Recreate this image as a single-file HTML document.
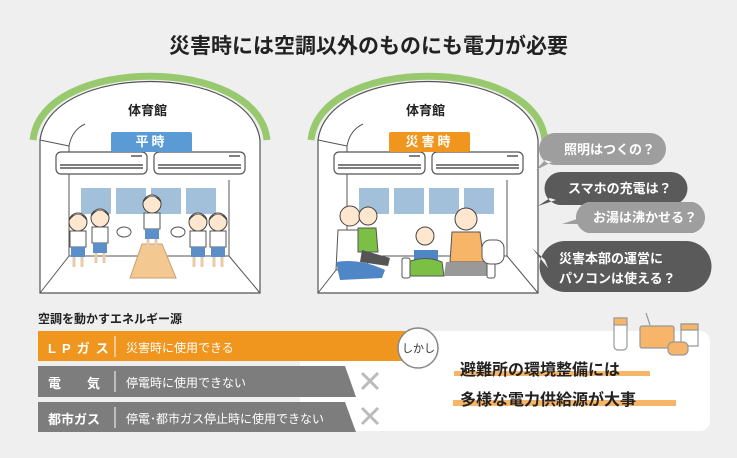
<!DOCTYPE html>
<html><head><meta charset="utf-8"><style>
body{margin:0;width:737px;height:458px;background:#eeefee;overflow:hidden;position:relative;font-family:"Liberation Sans","Noto Sans CJK JP",sans-serif;}
.a{position:absolute;white-space:nowrap;}
</style></head><body>
<svg class="a" style="left:0;top:0" width="737" height="458" viewBox="0 0 737 458">
<defs>
<g id="gym">
  <path d="M40,140 C50,62 250,62 260,140 L260,293 L40,293 Z" fill="#fff" stroke="#555" stroke-width="1.2"/>
  <path d="M33,140 C42,55 258,55 267,140" fill="none" stroke="#99c96e" stroke-width="7"/>
  <path d="M40,140 L69,146 Q72,130 85,124" fill="none" stroke="#555" stroke-width="1"/>
  <path d="M69,146 L69,256 L229,256 L229,180 M69,256 L40,293 M229,256 L260,293" fill="none" stroke="#555" stroke-width="1"/>
  <g fill="#a3c0da"><rect x="81" y="188" width="30" height="26"/><rect x="116" y="188" width="30" height="26"/><rect x="151" y="188" width="30" height="26"/><rect x="186" y="188" width="30" height="26"/></g>
  <g fill="#fff" stroke="#555" stroke-width="1.2">
   <rect x="56" y="152" width="91" height="22" rx="5"/><rect x="154" y="152" width="91" height="22" rx="5"/></g>
  <g stroke="#555" stroke-width="1.5"><line x1="60" y1="165" x2="143" y2="165"/><line x1="60" y1="168" x2="143" y2="168"/><line x1="158" y1="165" x2="241" y2="165"/><line x1="158" y1="168" x2="241" y2="168"/>
  <line x1="131" y1="156" x2="142" y2="156"/><line x1="229" y1="156" x2="240" y2="156"/></g>
</g>
<g id="kid">
  <circle cx="0" cy="0" r="9" fill="#ffe6cf" stroke="#444"/><path d="M-9,-1 Q0,-14 9,-1 L9,-4 Q0,-12 -9,-4Z" fill="#444"/>
  <rect x="-8" y="9" width="16" height="16" fill="#fff" stroke="#555"/><rect x="-7" y="25" width="14" height="10" fill="#5b8fc9"/>
  <line x1="-4" y1="35" x2="-4" y2="45" stroke="#e8c9a8" stroke-width="3"/><line x1="4" y1="35" x2="4" y2="45" stroke="#e8c9a8" stroke-width="3"/>
</g>
</defs>
<use href="#gym"/>
<use href="#gym" x="278"/>
<use href="#kid" x="78" y="222"/><use href="#kid" x="100" y="218"/><use href="#kid" x="198" y="222"/><use href="#kid" x="218" y="222"/>
<path d="M130,278 L142,244 L162,244 L176,278Z" fill="#f3c891" stroke="#c9a070"/>
<use href="#kid" x="152" y="204"/>
<ellipse cx="124" cy="232" rx="7" ry="5" fill="#fff" stroke="#555"/><ellipse cx="178" cy="232" rx="7" ry="5" fill="#fff" stroke="#555"/>
<circle cx="350" cy="216" r="10" fill="#ffe6cf" stroke="#444"/><path d="M338,230 L362,230 L368,265 L336,270Z" fill="#fff" stroke="#555"/><path d="M336,262 Q360,258 385,270 L382,278 L340,280Z" fill="#4f86c6"/>
<circle cx="368" cy="216" r="9" fill="#ffe6cf" stroke="#444"/><path d="M358,228 L376,228 L378,252 L358,252Z" fill="#7bbf45" stroke="#555"/><path d="M362,250 L390,258 L388,266 L360,262Z" fill="#555"/>
<circle cx="425" cy="236" r="9" fill="#ffe6cf" stroke="#444"/><path d="M414,250 L438,250 L438,262 L414,262Z" fill="#4f86c6"/><path d="M408,262 Q425,255 442,262 L444,276 L408,276Z" fill="#7bbf45" stroke="#555"/>
<circle cx="466" cy="219" r="11" fill="#ffe6cf" stroke="#444"/><path d="M452,232 L480,232 L484,262 L450,262Z" fill="#f7b56a" stroke="#555"/><path d="M446,262 L486,262 L488,276 L444,276Z" fill="#999"/>
<rect x="402" y="258" width="8" height="20" rx="2" fill="#fff" stroke="#555"/><rect x="487" y="258" width="8" height="20" rx="2" fill="#fff" stroke="#555"/>
<rect x="482" y="240" width="22" height="24" rx="8" fill="#fff" stroke="#555"/>
<g font-weight="bold" font-size="13" fill="#fff" font-family="Liberation Sans,Noto Sans CJK JP,sans-serif">
<path d="M555,133 H650 A16,16 0 0 1 650,165 H555 A16,16 0 0 1 555,133Z M545,160 L536,170 L552,162Z" fill="#9e9e9e"/>
<text x="564" y="154">照明はつくの？</text>
<path d="M561,172 H671 A16,16 0 0 1 671,205 H561 A16,16 0 0 1 561,172Z M550,198 L538,206 L556,200Z" fill="#5a5a5a"/>
<text x="568" y="193">スマホの充電は？</text>
<path d="M588,202 H693 A16,16 0 0 1 693,233 H588 A16,16 0 0 1 588,202Z M578,224 L562,224 L580,218Z" fill="#9e9e9e"/>
<text x="593" y="222">お湯は沸かせる？</text>
<path d="M565,241 H686 A25,25 0 0 1 686,292 H565 A25,25 0 0 1 565,241Z M545,260 L532,248 L548,268Z" fill="#5a5a5a"/>
<text x="559" y="263">災害本部の運営に</text><text x="559" y="283">パソコンは使える？</text>
</g>
<rect x="300" y="331" width="410" height="100" rx="10" fill="#fff"/>
<rect x="38" y="331" width="372" height="30" fill="#f0961e"/>
<path d="M38,366 H345 L356,397 H38Z" fill="#7d7d7d"/>
<path d="M38,402 H345 L356,432 H38Z" fill="#7d7d7d"/>
<g stroke="#fff" stroke-width="1"><line x1="115" y1="336" x2="115" y2="357"/><line x1="115" y1="371" x2="115" y2="392"/><line x1="115" y1="407" x2="115" y2="428"/></g>
<g stroke="#bbb" stroke-width="3"><path d="M362,373 L378,389 M378,373 L362,389"/><path d="M362,408 L378,424 M378,408 L362,424"/></g>
<circle cx="418" cy="348" r="20" fill="#fff" stroke="#888" stroke-width="1.5"/>
<rect x="454" y="371" width="196" height="5" fill="#f7b56a"/>
<rect x="453" y="400" width="223" height="6" fill="#f7b56a"/>
<g stroke="#999" stroke-width="1.2"><rect x="614" y="318" width="13" height="32" rx="4" fill="#fff"/><rect x="614" y="318" width="13" height="7" fill="#f7b56a"/>
<rect x="640" y="326" width="34" height="22" rx="2" fill="#f7b56a"/><line x1="650" y1="325" x2="646" y2="313"/>
<path d="M681,324 H698 V346 H681Z" fill="#fff"/><path d="M681,324 H698 V330 H681Z" fill="#f7b56a"/>
<rect x="668" y="342" width="20" height="13" rx="5" fill="#f7b56a"/></g>
</svg>
<div class="a" style="left:0;width:737px;top:30px;text-align:center;font-size:21px;font-weight:bold;color:#222">災害時には空調以外のものにも電力が必要</div>
<div class="a" style="left:128px;top:100px;font-size:13px;font-weight:bold;color:#222">体育館</div>
<div class="a" style="left:406px;top:100px;font-size:13px;font-weight:bold;color:#222">体育館</div>
<div class="a" style="left:111px;top:132px;width:81px;height:20px;background:#5b9bd5;color:#fff;font-weight:bold;font-size:13px;text-align:center;line-height:20px;letter-spacing:3px;border-radius:2px">平時</div>
<div class="a" style="left:389px;top:132px;width:81px;height:20px;background:#f0961e;color:#fff;font-weight:bold;font-size:13px;text-align:center;line-height:20px;letter-spacing:3px;border-radius:2px">災害時</div>
<div class="a" style="left:38px;top:310px;font-size:12px;font-weight:bold;color:#222">空調を動かすエネルギー源</div>
<div class="a" style="left:48px;top:338px;font-size:13px;font-weight:bold;color:#fff;letter-spacing:6px">LPガス</div>
<div class="a" style="left:126px;top:339px;font-size:12px;color:#fff">災害時に使用できる</div>
<div class="a" style="left:48px;top:373px;font-size:13px;font-weight:bold;color:#fff">電<span style="margin-left:26px">気</span></div>
<div class="a" style="left:126px;top:374px;font-size:12px;color:#fff">停電時に使用できない</div>
<div class="a" style="left:48px;top:409px;font-size:13px;font-weight:bold;color:#fff">都市ガス</div>
<div class="a" style="left:126px;top:410px;font-size:12px;color:#fff">停電･都市ガス停止時に使用できない</div>
<div class="a" style="left:402px;top:340px;font-size:11px;color:#333">しかし</div>
<div class="a" style="left:460px;top:356px;font-size:16px;font-weight:bold;color:#222">避難所の環境整備には</div>
<div class="a" style="left:460px;top:386px;font-size:16px;font-weight:bold;color:#222">多様な電力供給源が大事</div>
</body></html>
